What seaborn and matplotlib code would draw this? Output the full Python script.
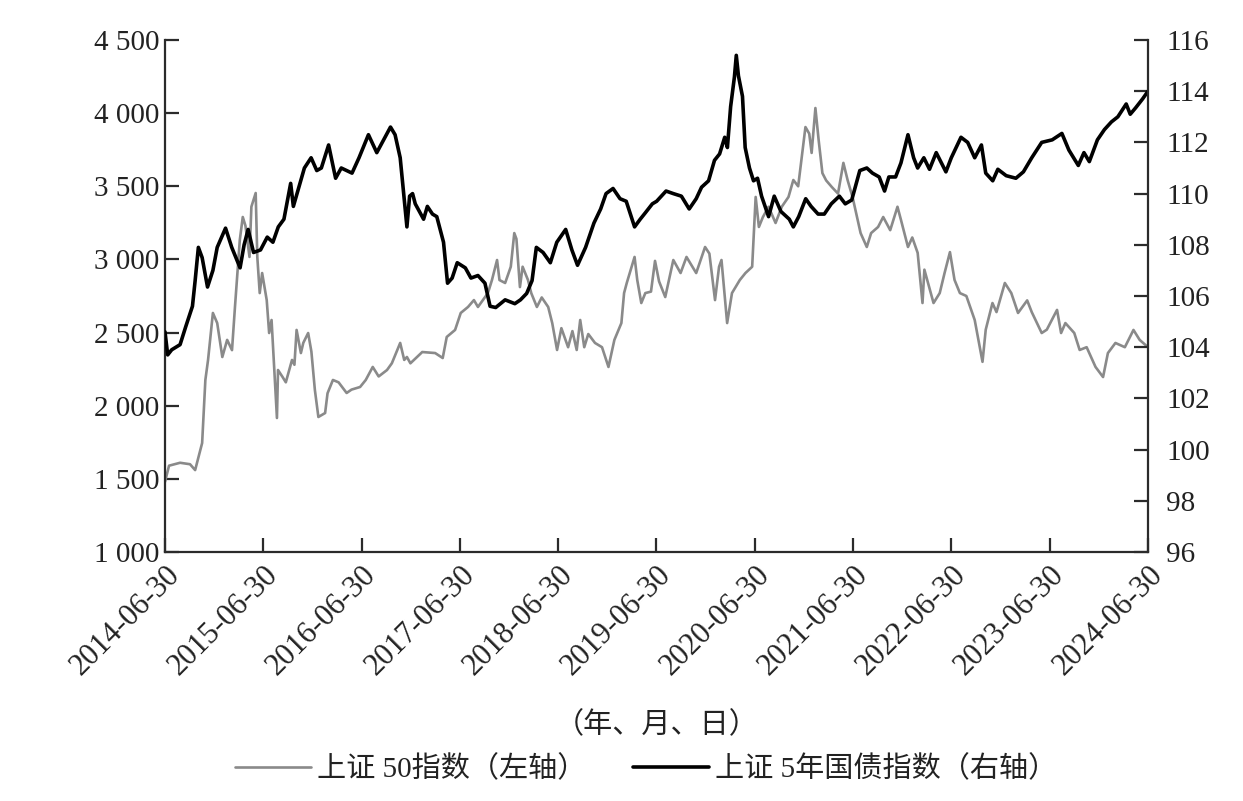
import matplotlib
matplotlib.use("Agg")
import matplotlib.pyplot as plt
import matplotlib.dates as mdates
from matplotlib.ticker import FuncFormatter, FixedLocator
import seaborn as sns
import pandas as pd

# ---------------- data ----------------
sz50_dates = [
    "2014-06-30", "2014-07-15", "2014-08-25", "2014-10-01", "2014-10-20", "2014-11-15", "2014-11-27",
    "2014-12-07", "2014-12-25", "2015-01-10", "2015-01-29", "2015-02-16", "2015-03-06", "2015-03-17",
    "2015-04-04", "2015-04-15", "2015-04-25", "2015-05-10", "2015-05-17", "2015-06-02", "2015-06-08",
    "2015-06-17", "2015-06-26", "2015-07-13", "2015-07-22", "2015-07-31", "2015-08-20", "2015-08-24",
    "2015-09-10", "2015-09-22", "2015-10-15", "2015-10-24", "2015-11-01", "2015-11-17", "2015-11-26",
    "2015-12-14", "2015-12-26", "2016-01-08", "2016-01-21", "2016-02-15", "2016-02-24", "2016-03-15",
    "2016-04-05", "2016-05-05", "2016-05-23", "2016-06-24", "2016-07-15", "2016-08-10", "2016-09-01",
    "2016-10-02", "2016-10-20", "2016-11-20", "2016-12-05", "2016-12-15", "2016-12-28", "2017-02-10",
    "2017-03-30", "2017-04-27", "2017-05-12", "2017-06-12", "2017-07-03", "2017-07-30", "2017-08-21",
    "2017-09-05", "2017-10-12", "2017-10-27", "2017-11-15", "2017-11-24", "2017-12-15", "2018-01-05",
    "2018-01-18", "2018-01-26", "2018-02-08", "2018-02-18", "2018-03-10", "2018-03-22", "2018-04-12",
    "2018-04-30", "2018-05-24", "2018-06-08", "2018-06-26", "2018-07-12", "2018-08-06", "2018-08-22",
    "2018-09-07", "2018-09-20", "2018-10-05", "2018-10-20", "2018-11-14", "2018-12-10", "2019-01-03",
    "2019-01-25", "2019-02-20", "2019-03-02", "2019-03-12", "2019-04-10", "2019-04-20", "2019-05-05",
    "2019-05-20", "2019-06-10", "2019-06-25", "2019-07-10", "2019-08-02", "2019-09-01", "2019-09-28",
    "2019-10-20", "2019-11-25", "2019-12-28", "2020-01-13", "2020-02-03", "2020-02-18", "2020-02-27",
    "2020-03-09", "2020-03-19", "2020-04-06", "2020-05-05", "2020-05-26", "2020-06-20", "2020-07-03",
    "2020-07-15", "2020-07-30", "2020-08-20", "2020-09-15", "2020-10-08", "2020-11-02", "2020-11-20",
    "2020-12-08", "2021-01-04", "2021-01-18", "2021-01-27", "2021-02-10", "2021-02-22", "2021-03-08",
    "2021-03-22", "2021-04-12", "2021-05-05", "2021-05-25", "2021-06-10", "2021-06-28", "2021-07-28",
    "2021-08-20", "2021-09-05", "2021-10-01", "2021-10-20", "2021-11-15", "2021-12-02", "2021-12-12",
    "2021-12-25", "2022-01-20", "2022-02-05", "2022-02-25", "2022-03-15", "2022-03-22", "2022-04-25",
    "2022-05-18", "2022-06-05", "2022-06-25", "2022-07-12", "2022-08-01", "2022-08-25", "2022-09-25",
    "2022-10-24", "2022-11-05", "2022-11-30", "2022-12-15", "2023-01-15", "2023-02-08", "2023-03-05",
    "2023-04-08", "2023-04-25", "2023-06-01", "2023-06-20", "2023-07-28", "2023-08-12", "2023-08-28",
    "2023-09-30", "2023-10-20", "2023-11-15", "2023-12-18", "2024-01-15", "2024-02-02", "2024-03-01",
    "2024-04-05", "2024-05-07", "2024-05-30", "2024-06-30",
]
sz50_values = [
    1480, 1590, 1610, 1600, 1560, 1745, 2176,
    2313, 2634, 2565, 2333, 2450, 2380, 2675,
    3133, 3290, 3230, 3017, 3360, 3454, 3017,
    2770, 2907, 2722, 2497, 2586, 1916, 2244,
    2196, 2160, 2313, 2280, 2518, 2360, 2430,
    2497, 2370, 2107, 1923, 1950, 2085, 2176,
    2160, 2087, 2110, 2128, 2176, 2265, 2200,
    2244, 2290, 2429, 2313, 2333, 2290, 2367,
    2360, 2326, 2470, 2518, 2634, 2675, 2722,
    2675, 2770, 2859, 2996, 2859, 2839, 2950,
    3180, 3140, 2811, 2950, 2859, 2770, 2675,
    2740, 2675, 2565, 2381, 2530, 2400, 2510,
    2381, 2586, 2400, 2490, 2429, 2400, 2265,
    2450, 2565, 2770, 2839, 3017, 2859, 2702,
    2770, 2780, 2990, 2850, 2743, 2996, 2907,
    3017, 2907, 3085, 3040, 2722, 2950, 2996,
    2770, 2565, 2770, 2859, 2907, 2950, 3427,
    3222, 3290, 3360, 3249, 3360, 3427, 3543,
    3500, 3905, 3860, 3728, 4035, 3817, 3590,
    3540, 3495, 3450, 3660, 3540, 3427, 3180,
    3085, 3180, 3222, 3290, 3200, 3300, 3360,
    3270, 3085, 3150, 3045, 2702, 2930, 2702,
    2770, 2907, 3050, 2860, 2770, 2750, 2586,
    2300, 2520, 2702, 2640, 2839, 2770, 2634,
    2720, 2640, 2497, 2520, 2655, 2497, 2565,
    2497, 2381, 2400, 2265, 2196, 2360, 2429,
    2400, 2518, 2450, 2400,
]

bond_dates = [
    "2014-06-30", "2014-07-10", "2014-07-25", "2014-08-25", "2014-09-15", "2014-10-10", "2014-10-20",
    "2014-11-01", "2014-11-15", "2014-12-05", "2014-12-25", "2015-01-10", "2015-02-10", "2015-03-05",
    "2015-04-05", "2015-04-20", "2015-05-05", "2015-05-25", "2015-06-20", "2015-07-15", "2015-08-05",
    "2015-08-25", "2015-09-15", "2015-10-10", "2015-10-20", "2015-11-30", "2015-12-25", "2016-01-15",
    "2016-02-01", "2016-02-28", "2016-03-25", "2016-04-15", "2016-05-25", "2016-06-20", "2016-07-25",
    "2016-08-25", "2016-10-15", "2016-11-01", "2016-11-20", "2016-12-15", "2016-12-25", "2017-01-05",
    "2017-01-15", "2017-02-15", "2017-03-01", "2017-03-20", "2017-04-05", "2017-04-30", "2017-05-15",
    "2017-06-01", "2017-06-20", "2017-07-20", "2017-08-10", "2017-09-05", "2017-10-01", "2017-10-20",
    "2017-11-10", "2017-12-15", "2018-01-20", "2018-02-10", "2018-03-05", "2018-03-25", "2018-04-10",
    "2018-05-05", "2018-06-01", "2018-06-25", "2018-07-28", "2018-08-20", "2018-09-10", "2018-10-10",
    "2018-11-10", "2018-12-05", "2018-12-25", "2019-01-20", "2019-02-15", "2019-03-10", "2019-04-10",
    "2019-05-01", "2019-05-20", "2019-06-15", "2019-07-01", "2019-08-05", "2019-09-01", "2019-10-01",
    "2019-10-30", "2019-11-25", "2019-12-15", "2020-01-10", "2020-02-01", "2020-02-20", "2020-03-10",
    "2020-03-20", "2020-04-01", "2020-04-15", "2020-04-22", "2020-04-30", "2020-05-15", "2020-05-25",
    "2020-06-10", "2020-06-25", "2020-07-10", "2020-07-25", "2020-08-20", "2020-09-10", "2020-10-05",
    "2020-11-05", "2020-11-20", "2020-12-10", "2021-01-05", "2021-01-25", "2021-02-20", "2021-03-15",
    "2021-04-10", "2021-05-10", "2021-06-01", "2021-06-25", "2021-07-25", "2021-08-20", "2021-09-10",
    "2021-10-05", "2021-10-25", "2021-11-10", "2021-12-05", "2021-12-25", "2022-01-20", "2022-02-10",
    "2022-02-25", "2022-03-20", "2022-04-10", "2022-05-05", "2022-06-10", "2022-06-30", "2022-08-05",
    "2022-08-30", "2022-09-25", "2022-10-20", "2022-11-05", "2022-12-01", "2022-12-20", "2023-01-20",
    "2023-02-25", "2023-03-25", "2023-04-25", "2023-06-01", "2023-07-10", "2023-08-15", "2023-09-10",
    "2023-10-15", "2023-11-05", "2023-11-25", "2023-12-25", "2024-01-20", "2024-02-15", "2024-03-10",
    "2024-04-10", "2024-04-25", "2024-05-15", "2024-06-10", "2024-06-30",
]
bond_values = [
    104.6, 103.7, 103.9, 104.1, 104.8, 105.6, 106.6,
    107.9, 107.5, 106.35, 107.0, 107.9, 108.65, 107.9,
    107.1, 108.0, 108.6, 107.7, 107.8, 108.3, 108.1,
    108.7, 109.0, 110.4, 109.5, 111.0, 111.4, 110.9,
    111.0, 111.9, 110.6, 111.0, 110.8, 111.4, 112.3,
    111.6, 112.6, 112.3, 111.4, 108.7, 109.9, 110.0,
    109.6, 109.0, 109.5, 109.2, 109.1, 108.1, 106.5,
    106.7, 107.3, 107.1, 106.7, 106.8, 106.5, 105.6,
    105.55, 105.85, 105.7, 105.85, 106.1, 106.6, 107.9,
    107.7, 107.3, 108.1, 108.6, 107.8, 107.2, 107.9,
    108.85, 109.4, 110.0, 110.2, 109.8, 109.7, 108.7,
    109.0, 109.25, 109.6, 109.7, 110.1, 110.0, 109.9,
    109.4, 109.8, 110.25, 110.5, 111.3, 111.55, 112.2,
    111.8, 113.4, 114.55, 115.4, 114.6, 113.8, 111.8,
    111.0, 110.5, 110.6, 109.9, 109.1, 109.9, 109.3,
    109.0, 108.7, 109.1, 109.8, 109.5, 109.2, 109.2,
    109.6, 109.9, 109.6, 109.75, 110.9, 111.0, 110.8,
    110.65, 110.1, 110.65, 110.65, 111.2, 112.3, 111.4,
    111.0, 111.4, 110.95, 111.6, 110.85, 111.4, 112.2,
    112.0, 111.4, 111.9, 110.8, 110.5, 110.95, 110.7,
    110.6, 110.85, 111.4, 112.0, 112.1, 112.35, 111.7,
    111.1, 111.6, 111.25, 112.1, 112.5, 112.8, 113.0,
    113.5, 113.1, 113.35, 113.7, 114.0,
]

left_ticks = [1000, 1500, 2000, 2500, 3000, 3500, 4000, 4500]
right_ticks = [96, 98, 100, 102, 104, 106, 108, 110, 112, 114, 116]
x_tick_labels = ["2014-06-30", "2015-06-30", "2016-06-30", "2017-06-30", "2018-06-30", "2019-06-30",
                 "2020-06-30", "2021-06-30", "2022-06-30", "2023-06-30", "2024-06-30"]
label_sz50 = "上证 50指数（左轴）"
label_bond = "上证 5年国债指数（右轴）"
x_label = "（年、月、日）"

# ---------------- plotting ----------------
sns.set_theme(style="white")
plt.rcParams["font.family"] = ["Liberation Serif", "Noto Sans CJK SC", "DejaVu Sans"]

df1 = pd.DataFrame({"date": pd.to_datetime(sz50_dates), "value": sz50_values})
df2 = pd.DataFrame({"date": pd.to_datetime(bond_dates), "value": bond_values})

fig = plt.figure(figsize=(12.43, 8.01), dpi=100)
ax = fig.add_axes([165 / 1243, 1 - 552 / 801, 983 / 1243, 512 / 801])
ax2 = ax.twinx()

sns.lineplot(data=df1, x="date", y="value", ax=ax, color="#8a8a8a", linewidth=1.9, label=label_sz50, legend=False)
sns.lineplot(data=df2, x="date", y="value", ax=ax2, color="#000000", linewidth=2.6, label=label_bond, legend=False)

ax.set_xlim(pd.Timestamp("2014-06-30"), pd.Timestamp("2024-06-30"))
ax.set_ylim(1000, 4500)
ax2.set_ylim(96, 116)

spine_color = "#2b2b2b"
for a in (ax, ax2):
    for s in a.spines.values():
        s.set_color(spine_color)
        s.set_linewidth(1.6)
    a.spines["top"].set_visible(False)
ax.spines["right"].set_visible(False)
ax2.spines["left"].set_visible(False)
ax2.spines["bottom"].set_visible(False)

ax.yaxis.set_major_locator(FixedLocator(left_ticks))
ax.yaxis.set_major_formatter(FuncFormatter(lambda v, p: f"{int(v):,}".replace(",", " ")))
ax2.yaxis.set_major_locator(FixedLocator(right_ticks))
ax2.yaxis.set_major_formatter(FuncFormatter(lambda v, p: f"{int(v)}"))

tick_pos = [mdates.date2num(pd.Timestamp(d)) for d in x_tick_labels]
ax.set_xticks(tick_pos)
ax.set_xticklabels(x_tick_labels, rotation=45, ha="right", rotation_mode="anchor")

ax.tick_params(axis="y", direction="in", length=10, width=1.6, color=spine_color,
               labelsize=21, pad=4, labelcolor="#222222", left=True)
ax.tick_params(axis="x", direction="in", length=10, width=1.6, color=spine_color,
               labelsize=22, pad=6, labelcolor="#222222", bottom=True)
ax2.tick_params(axis="y", direction="in", length=10, width=1.6, color=spine_color,
                labelsize=21, pad=13, labelcolor="#222222", right=True)

ax.set_xlabel(x_label, fontsize=21, labelpad=22, color="#222222")
ax.set_ylabel("")
ax2.set_ylabel("")

h1, l1 = ax.get_legend_handles_labels()
h2, l2 = ax2.get_legend_handles_labels()
fig.legend(h1 + h2, l1 + l2, loc="center", bbox_to_anchor=(646 / 1243, 1 - 769 / 801), ncol=2,
           frameon=False, fontsize=21, handlelength=2.6, handletextpad=0.2, columnspacing=1.6,
           labelcolor="#222222")

fig.savefig("out.png", dpi=100, facecolor="white")
